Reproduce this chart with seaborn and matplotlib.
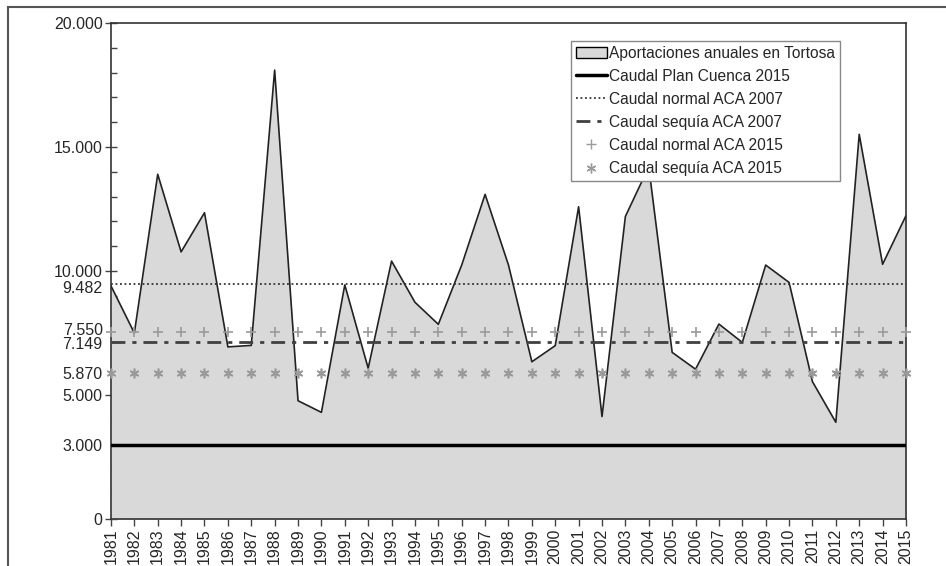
import pandas as pd
import matplotlib
matplotlib.use('Agg')
import matplotlib.pyplot as plt
import matplotlib.transforms as mtransforms
import seaborn as sns
from matplotlib.patches import Patch, Rectangle
from matplotlib.lines import Line2D
from matplotlib.ticker import MultipleLocator

# Annual inflows at Tortosa (hm3)
years = list(range(1981, 2016))
aportaciones = [9400, 7500, 13900, 10770, 12350, 6940, 7000, 18100, 4770, 4300,
                9440, 6080, 10400, 8740, 7850, 10240, 13090, 10240, 6340, 6990,
                12590, 4130, 12200, 14200, 6720, 6040, 7860, 7120, 10240, 9540,
                5540, 3900, 15510, 10270, 12230]

# Reference flows
plan_cuenca_2015 = 3000
normal_aca_2007 = 9482
sequia_aca_2007 = 7149
normal_aca_2015 = 7550
sequia_aca_2015 = 5870

ytick_values = [0, 3000, 5000, 5870, 7149, 7550, 9482, 10000, 15000, 20000]
no_tick_mark = [3000, 5870, 7149, 7550, 9482]

labels = ['Aportaciones anuales en Tortosa', 'Caudal Plan Cuenca 2015',
          'Caudal normal ACA 2007', 'Caudal sequía ACA 2007',
          'Caudal normal ACA 2015', 'Caudal sequía ACA 2015']


def fmt(v):
    return f"{v:,}".replace(',', '.')


sns.set_style('ticks')
plt.rcParams['font.family'] = ['Liberation Sans', 'DejaVu Sans']

df = pd.DataFrame({'year': years, 'aportacion': aportaciones})

fig = plt.figure(figsize=(9.46, 5.66), dpi=100)
ax = fig.add_axes([0.1173, 0.0830, 0.8404, 0.8764])

fill_col = '#d9d9d9'
mark_col = '#9a9a9a'
dashdot = (0, (5, 2.5, 1.5, 2.5))
star = (6, 2, 0)

# Area + outline
ax.fill_between(df['year'], df['aportacion'], color=fill_col, lw=0, zorder=1)
sns.lineplot(data=df, x='year', y='aportacion', color='#222222', lw=1.2,
             ax=ax, zorder=3)

# Reference lines
ax.axhline(plan_cuenca_2015, color='black', lw=2.5, zorder=4)
ax.axhline(normal_aca_2007, color='#333333', lw=1.3, ls=(0, (1, 1.5)), zorder=4)
ax.axhline(sequia_aca_2007, color='#404040', lw=2, ls=dashdot, zorder=4)
ax.plot(years, [normal_aca_2015] * len(years), ls='none', marker='+',
        ms=7, mew=1.2, color=mark_col, zorder=5, clip_on=False)
ax.plot(years, [sequia_aca_2015] * len(years), ls='none', marker=star,
        ms=7, mew=1.2, color=mark_col, zorder=5, clip_on=False)

# Axes
ax.set_xlim(1981, 2015)
ax.set_ylim(0, 20000)
ax.set_xlabel('')
ax.set_ylabel('')
ax.set_xticks(years)
ax.set_xticklabels([str(y) for y in years], rotation=90, fontsize=11.5)
ax.set_yticks(ytick_values)
ax.set_yticklabels([fmt(v) for v in ytick_values], fontsize=11.5)
ax.yaxis.set_minor_locator(MultipleLocator(1000))
ax.yaxis.remove_overlapping_locs = False
ax.tick_params(axis='y', which='major', direction='out', length=4, width=1,
               pad=2, color='#444444')
ax.tick_params(axis='y', which='minor', direction='in', length=4, width=1,
               color='#444444')
ax.tick_params(axis='x', direction='out', length=5, width=1, pad=2,
               color='#444444')
for t, v in zip(ax.yaxis.get_major_ticks(), ytick_values):
    if v in no_tick_mark:
        t.tick1line.set_visible(False)

# crowded labels are nudged apart a little, as in the original
nudge = {7550: 2.2, 7149: -1.0, 9482: -2.2}
for lab, v in zip(ax.get_yticklabels(), ytick_values):
    if v in nudge:
        lab.set_transform(lab.get_transform() + mtransforms.ScaledTranslation(
            0, nudge[v] / 72, fig.dpi_scale_trans))

for s in ax.spines.values():
    s.set_visible(True)
    s.set_color('#333333')
    s.set_linewidth(1.2)

# Legend
handles = [
    Patch(facecolor=fill_col, edgecolor='black', lw=1),
    Line2D([], [], color='black', lw=2.5),
    Line2D([], [], color='#333333', lw=1.3, ls=(0, (1, 1.5))),
    Line2D([], [], color='#404040', lw=2, ls=dashdot),
    Line2D([], [], ls='none', marker='+', ms=7, mew=1, color=mark_col),
    Line2D([], [], ls='none', marker=star, ms=7, mew=1, color=mark_col),
]
leg = ax.legend(handles, labels, loc='upper right', bbox_to_anchor=(0.917, 0.964),
                borderaxespad=0, frameon=True, fancybox=False, framealpha=1,
                edgecolor='#888888', fontsize=11.2, handlelength=2.0,
                handletextpad=0.15, labelspacing=0.52, borderpad=0.3)
leg.get_frame().set_linewidth(1)
leg.set_zorder(10)

# Outer frame of the picture
fig.add_artist(Rectangle((7.5 / 946, -0.1), 1.2, (566 - 6.5) / 566 + 0.1,
                         transform=fig.transFigure, fill=False,
                         edgecolor='#555555', lw=1.5, clip_on=False))

fig.savefig('out.png', dpi=100)
